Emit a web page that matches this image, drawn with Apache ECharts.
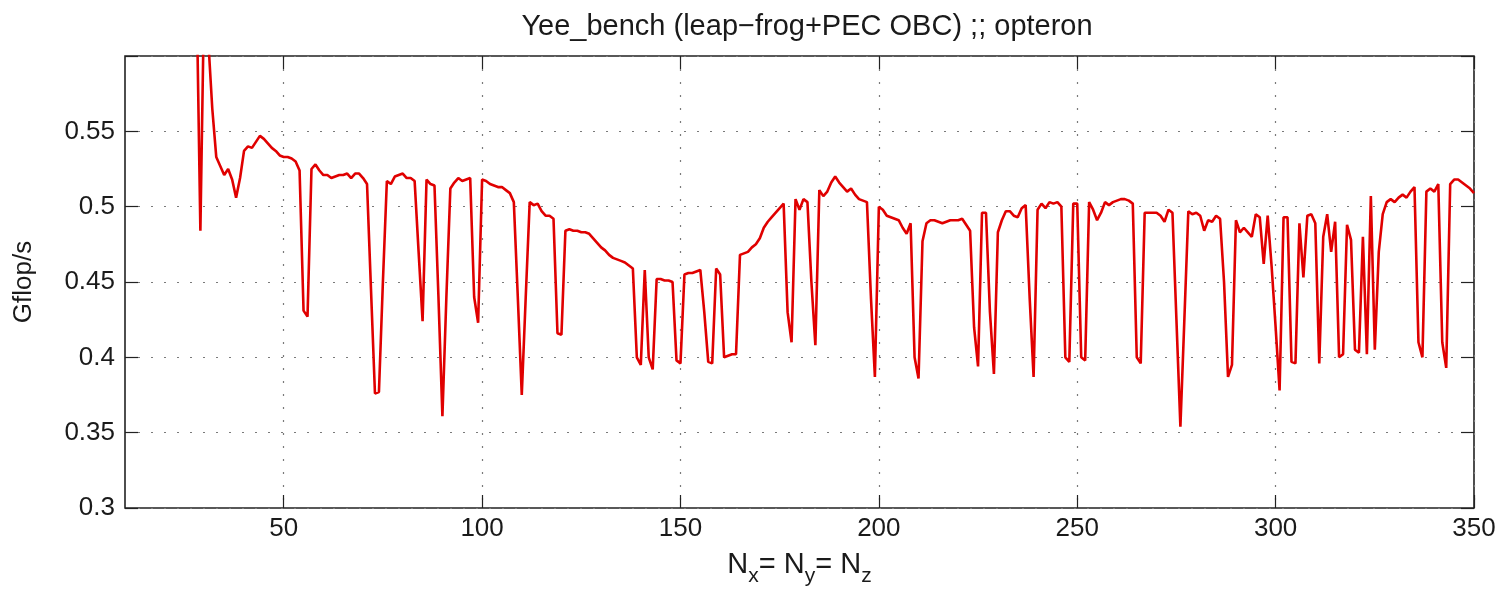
<!DOCTYPE html>
<html><head><meta charset="utf-8">
<script src="https://cdn.jsdelivr.net/npm/echarts@6/dist/echarts.min.js"></script>
<style>html,body{margin:0;padding:0;background:#fff}#c{width:1507px;height:594px}</style>
</head><body><div id="c"></div>
<script>
// Problem size N (Nx = Ny = Nz), first value of the sweep
const firstN = 28;
// Measured performance in Gflop/s, one value per N from firstN to 350
const gflops = [
  0.65, 0.484,
  0.65, 0.61, 0.565, 0.533, 0.527, 0.521, 0.525, 0.518, 0.506, 0.519,
  0.537, 0.540, 0.539, 0.543, 0.547, 0.545, 0.542, 0.539, 0.537, 0.534,
  0.533, 0.533, 0.532, 0.530, 0.524, 0.431, 0.427, 0.525, 0.528, 0.524,
  0.521, 0.521, 0.519, 0.520, 0.521, 0.521, 0.522, 0.519, 0.522, 0.522,
  0.519, 0.515, 0.445, 0.376, 0.377, 0.450, 0.517, 0.515, 0.520, 0.521,
  0.522, 0.519, 0.519, 0.517, 0.470, 0.424, 0.518, 0.515, 0.514, 0.440,
  0.361, 0.440, 0.512, 0.516, 0.519, 0.517, 0.518, 0.519, 0.440, 0.423,
  0.518, 0.517, 0.515, 0.514, 0.513, 0.513, 0.511, 0.509, 0.503, 0.440,
  0.375, 0.440, 0.503, 0.501, 0.502, 0.497, 0.494, 0.494, 0.492, 0.416,
  0.415, 0.484, 0.485, 0.484, 0.484, 0.483, 0.483, 0.482, 0.479, 0.476,
  0.473, 0.471, 0.468, 0.466, 0.465, 0.464, 0.463, 0.461, 0.459, 0.400,
  0.395, 0.458, 0.400, 0.392, 0.452, 0.452, 0.451, 0.451, 0.450, 0.398,
  0.396, 0.455, 0.456, 0.456, 0.457, 0.458, 0.430, 0.397, 0.396, 0.459,
  0.455, 0.400, 0.401, 0.402, 0.402, 0.468, 0.469, 0.470, 0.473, 0.475,
  0.479, 0.486, 0.490, 0.493, 0.496, 0.499, 0.502, 0.430, 0.410, 0.505,
  0.498, 0.505, 0.503, 0.450, 0.408, 0.511, 0.507, 0.510, 0.516, 0.520,
  0.516, 0.513, 0.510, 0.512, 0.508, 0.505, 0.504, 0.503, 0.440, 0.387,
  0.500, 0.498, 0.494, 0.493, 0.492, 0.491, 0.486, 0.482, 0.489, 0.400,
  0.386, 0.477, 0.489, 0.491, 0.491, 0.490, 0.489, 0.490, 0.491, 0.491,
  0.491, 0.492, 0.488, 0.484, 0.420, 0.394, 0.496, 0.496, 0.430, 0.389,
  0.483, 0.491, 0.497, 0.497, 0.494, 0.493, 0.499, 0.501, 0.440, 0.387,
  0.498, 0.502, 0.499, 0.503, 0.502, 0.503, 0.500, 0.400, 0.397, 0.502,
  0.502, 0.400, 0.398, 0.503, 0.498, 0.491, 0.496, 0.503, 0.501, 0.503,
  0.504, 0.505, 0.505, 0.504, 0.502, 0.400, 0.396, 0.496, 0.496, 0.496,
  0.496, 0.494, 0.490, 0.498, 0.496, 0.425, 0.354, 0.425, 0.497, 0.495,
  0.496, 0.494, 0.484, 0.491, 0.490, 0.494, 0.492, 0.450, 0.387, 0.395,
  0.491, 0.483, 0.486, 0.483, 0.480, 0.495, 0.493, 0.462, 0.494, 0.460,
  0.420, 0.378, 0.493, 0.493, 0.397, 0.396, 0.489, 0.453, 0.494, 0.495,
  0.489, 0.396, 0.480, 0.495, 0.470, 0.490, 0.400, 0.402, 0.488, 0.478,
  0.405, 0.403, 0.480, 0.402, 0.507, 0.405, 0.470, 0.495, 0.503, 0.505,
  0.503, 0.506, 0.508, 0.506, 0.510, 0.513, 0.410, 0.400, 0.510, 0.512,
  0.510, 0.515, 0.410, 0.393, 0.515, 0.518, 0.518, 0.516, 0.514, 0.512,
  0.509
];
const xTicks = [50, 100, 150, 200, 250, 300, 350];
const xRange = [10, 350];
const yRange = [0.3, 0.6];
const yStep = 0.05;
const titleText = 'Yee_bench (leap\u2212frog+PEC OBC) ;; opteron';
const yName = 'Gflop/s';

const FONT = '"Liberation Sans", Arial, Helvetica, sans-serif';
const seriesData = gflops.map((v, i) => [firstN + i, v]);

const chart = echarts.init(document.getElementById('c'), null, {renderer: 'canvas'});
const tickStyle = {show: true, inside: true, length: 13, lineStyle: {color: '#222', width: 1.2}};
const gridLine = {show: true, lineStyle: {color: '#7a7a7a', width: 1.2, type: [2, 11]}};

chart.setOption({
  animation: false,
  backgroundColor: '#ffffff',
  title: {
    text: titleText, left: 802, top: 7, textAlign: 'center',
    textStyle: {fontFamily: FONT, fontSize: 29, fontWeight: 'normal', color: '#1a1a1a'}
  },
  grid: {left: 125, right: 33, top: 56, bottom: 86, show: true, borderColor: '#222', borderWidth: 1.6, backgroundColor: '#fff'},
  xAxis: [{
    type: 'value', min: xRange[0], max: xRange[1], position: 'bottom',
    axisLine: {show: false},
    axisTick: Object.assign({customValues: xTicks}, tickStyle),
    axisLabel: {customValues: xTicks, fontFamily: FONT, fontSize: 26, color: '#1a1a1a', margin: 8},
    splitLine: gridLine,
    name: '{n|N}{s|x}{n|= N}{s|y}{n|= N}{s|z}',
    nameLocation: 'middle', nameGap: 42,
    nameTextStyle: {
      rich: {
        n: {fontFamily: FONT, fontSize: 29, color: '#1a1a1a', verticalAlign: 'top', lineHeight: 30},
        s: {fontFamily: FONT, fontSize: 21, color: '#1a1a1a', verticalAlign: 'top', lineHeight: 22, padding: [16, 0, 0, 0]}
      }
    }
  }, {
    type: 'value', min: xRange[0], max: xRange[1], position: 'top',
    axisLine: {show: false},
    axisTick: Object.assign({customValues: xTicks}, tickStyle),
    axisLabel: {show: false, customValues: xTicks},
    splitLine: {show: false}
  }],
  yAxis: [{
    type: 'value', min: yRange[0], max: yRange[1], interval: yStep, position: 'left',
    axisLine: {show: false},
    axisTick: tickStyle,
    axisLabel: {
      fontFamily: FONT, fontSize: 26, color: '#1a1a1a', margin: 10,
      formatter: v => (Math.abs(v - yRange[1]) < 1e-9 ? '' : String(+v.toFixed(2)))
    },
    splitLine: gridLine,
    name: yName, nameLocation: 'middle', nameRotate: 90, nameGap: 88,
    nameTextStyle: {fontFamily: FONT, fontSize: 26, color: '#1a1a1a'}
  }, {
    type: 'value', min: yRange[0], max: yRange[1], interval: yStep, position: 'right',
    axisLine: {show: false},
    axisTick: tickStyle,
    axisLabel: {show: false},
    splitLine: {show: false}
  }],
  series: [{
    type: 'line', xAxisIndex: 0, yAxisIndex: 0,
    data: seriesData, showSymbol: false, symbol: 'none', clip: true,
    lineStyle: {color: '#e00000', width: 2.6},
    z: 5
  }]
});
</script>
</body></html>
